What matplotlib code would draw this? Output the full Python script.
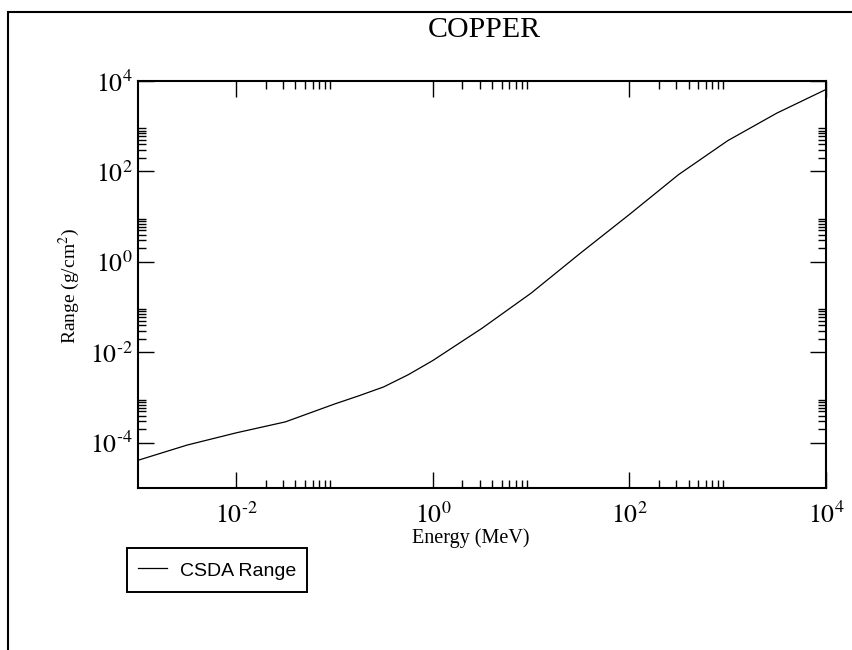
import math
import matplotlib
matplotlib.use('Agg')
import matplotlib.pyplot as plt
from matplotlib.patches import Rectangle
from matplotlib.ticker import FixedLocator, FuncFormatter, NullFormatter

# proton CSDA range in copper
energy = [1e-3, 3.16e-3, 1e-2, 3.16e-2, 0.1, 0.178, 0.316, 0.562, 1.0, 3.16,
          10.0, 31.6, 100.0, 316.0, 1000.0, 3162.0, 10000.0]
csda_range = [4.1e-5, 8.9e-5, 1.66e-4, 2.9e-4, 7.2e-4, 1.1e-3, 1.72e-3, 3.2e-3,
              6.6e-3, 3.4e-2, 0.204, 1.55, 11.2, 85.0, 479.0, 1950.0, 6500.0]

x_major_exp = [-2, 0, 2, 4]
y_major_exp = [-4, -2, 0, 2, 4]

plt.rcParams['font.family'] = ['Liberation Serif', 'DejaVu Serif']
plt.rcParams['mathtext.fontset'] = 'stix'

fig = plt.figure(figsize=(8.53, 6.5), dpi=100)
ax = fig.add_axes([138 / 853, 1 - 488 / 650, 688 / 853, 407 / 650])

ax.loglog(energy, csda_range, color='black', lw=0.9, label='CSDA Range')
ax.set_xlim(1e-3, 1e4)
ax.set_ylim(1e-5, 1e4)


def major_ticks(exps):
    return [10.0 ** k for k in exps]


def minor_ticks(exps):
    # only the decade right above each labelled tick gets minor marks
    return [m * 10.0 ** k for k in exps for m in range(2, 10)]


def pow_label(v, pos):
    e = round(math.log10(v))
    sign = r'\text{-}' if e < 0 else ''
    return r'$10^{%s%d}$' % (sign, abs(e))


ax.xaxis.set_major_locator(FixedLocator(major_ticks(x_major_exp)))
ax.xaxis.set_minor_locator(FixedLocator(minor_ticks(x_major_exp)))
ax.yaxis.set_major_locator(FixedLocator(major_ticks(y_major_exp)))
ax.yaxis.set_minor_locator(FixedLocator(minor_ticks(y_major_exp)))
ax.xaxis.set_major_formatter(FuncFormatter(pow_label))
ax.yaxis.set_major_formatter(FuncFormatter(pow_label))
ax.xaxis.set_minor_formatter(NullFormatter())
ax.yaxis.set_minor_formatter(NullFormatter())

ax.tick_params(which='both', direction='in', top=True, right=True,
               width=1.0, labelsize=18.5)
ax.tick_params(which='major', length=11.5)
ax.tick_params(which='minor', length=5.8)
ax.tick_params(axis='x', pad=10)
ax.tick_params(axis='y', pad=4)
for sp in ax.spines.values():
    sp.set_linewidth(1.5)

ax.set_xlabel('Energy (MeV)', fontsize=14.5)
ax.xaxis.set_label_coords(0.483, -0.1)
ax.set_ylabel(r'Range (g/cm$^{2}$)', fontsize=14)
ax.yaxis.set_label_coords((82 - 138) / 688, 0.496)

fig.text(484 / 853, 1 - 30 / 650, 'COPPER', ha='center', va='center',
         fontsize=21.5)

leg = ax.legend(loc='upper left', bbox_to_anchor=(127 / 853, 1 - 548 / 650),
                bbox_transform=fig.transFigure, borderaxespad=0,
                prop={'family': 'Liberation Sans', 'size': 14},
                fancybox=False, framealpha=1, edgecolor='black',
                borderpad=0.55, handlelength=1.5, handletextpad=0.7,
                handleheight=1.4)
leg.get_frame().set_linewidth(1.4)

# page frame, open at the right and bottom edges
fig.patches.append(Rectangle((8 / 853, -0.5), 1.5, 0.5 + 1 - 12 / 650,
                             transform=fig.transFigure, fill=False,
                             edgecolor='black', lw=1.5))

fig.savefig('out.png', dpi=100)
